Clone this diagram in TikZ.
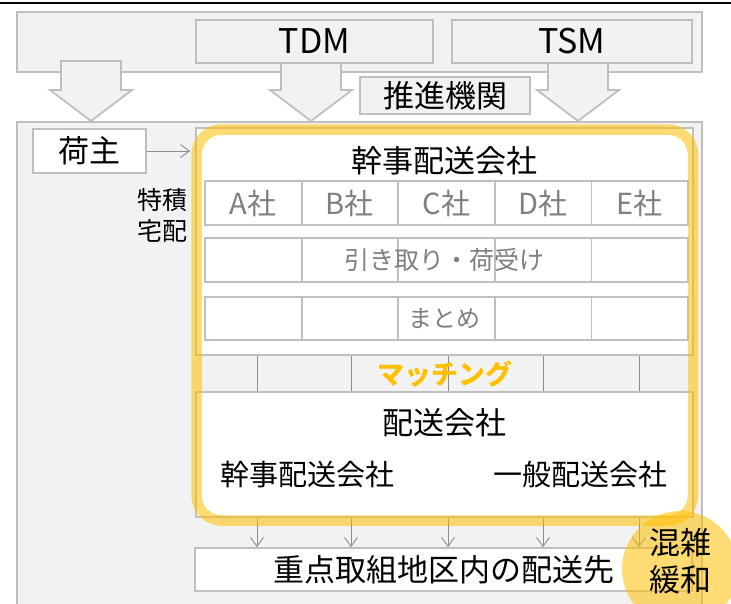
\documentclass[tikz,border=0pt]{standalone}
\usepackage{fontspec}
\setmainfont{Noto Sans CJK JP}
\usepackage{xcolor}
\usepackage{tikz}
\usetikzlibrary{arrows.meta, positioning}

\definecolor{panelgray}{HTML}{F2F2F2}
\definecolor{linegray}{HTML}{BFBFBF}
\definecolor{textgray}{HTML}{7F7F7F}
\definecolor{wiregray}{HTML}{8C8C8C}
\definecolor{matchorange}{HTML}{FFC000}

\begin{document}
\begin{tikzpicture}[
        x=1pt, y=-1pt,
        every node/.style={inner sep=0pt},
        panel/.style={draw=linegray, line width=1.8pt, fill=panelgray},
        box/.style={draw=linegray, line width=1.8pt, fill=white},
        cell/.style={box, minimum width=96.6pt, minimum height=44pt},
        blockarrow/.style={draw=linegray, line width=1.8pt, fill=panelgray},
        wire/.style={draw=wiregray, line width=0.9pt},
        flow/.style={wire, -{Straight Barb[length=9pt, width=13pt]}},
        big/.style={font=\fontsize{31pt}{37pt}\selectfont},
        mid/.style={font=\fontsize{29pt}{35pt}\selectfont},
        small/.style={font=\fontsize{25pt}{31pt}\selectfont},
        hilite/.style={draw=matchorange, line width=10.5pt, draw opacity=0.55, rounded corners=25pt}
    ]
    \clip (0,0) rectangle (731,603);

    % Header
    \draw[black, line width=1.5pt] (0,3) -- (731,3);
    \node[panel, minimum width=685, minimum height=60] (top) at (359.5,42) {};
    \node[panel, font=\fontsize{34pt}{40pt}\selectfont, minimum width=237, minimum height=43] (tdm) at (314.5,41.5) {TDM};
    \node[panel, font=\fontsize{34pt}{40pt}\selectfont, minimum width=240, minimum height=43] (tsm) at (572,41.5) {TSM};
    \node[panel, minimum width=685, minimum height=500] (field) at (359.5,372) {};

    % Block arrows
    \foreach \cx/\ty in {91/61, 311/63, 578/63}
        \draw[blockarrow] (\cx-30,\ty) -- (\cx+30,\ty) -- (\cx+30,90) -- (\cx+41,90)
            -- (\cx,121) -- (\cx-41,90) -- (\cx-30,90) -- cycle;
    \node[panel, big, minimum width=170, minimum height=37] (agency) at (445,95.5) {推進機関};

    % Shipper
    \node[box, big, minimum width=113, minimum height=44] (shipper) at (89.5,151) {荷主};
    \node[small, align=center] (special) at (162.5,215.5) {特積\\宅配};

    % Lead carrier
    \node[box, minimum width=497, minimum height=227] (lead) at (444.5,241.5) {};
    \node[big] (leadtitle) at (444.5,161) {幹事配送会社};
    \foreach \firm [count=\i from 0] in {A,B,C,D,E} {
        \node[cell, text=textgray, font=\fontsize{29pt}{33pt}\selectfont] (co\firm) at (253.3+96.6*\i,203) {\firm 社};
        \node[cell] (pick\firm) at (253.3+96.6*\i,260) {};
        \node[cell, minimum height=43pt] (pack\firm) at (253.3+96.6*\i,318.5) {};
    }
    \node[small, text=textgray] (pickup) at (444.5,260) {引き取り・荷受け};
    \node[text=textgray, font=\fontsize{24pt}{28pt}\selectfont] (bundle) at (444.5,318.5) {まとめ};

    % Carriers
    \node[box, minimum width=497, minimum height=125] (carrier) at (444.5,454.5) {};
    \foreach \x in {257,351,448,543,639}
        \draw[wire] (\x,0 |- lead.south) -- (\x,0 |- carrier.north);
    \node[text=matchorange, font=\fontsize{27pt}{31pt}\selectfont\bfseries] (matching) at (444.5,374) {マッチング};
    \node[big] (carriertitle) at (444.5,423) {配送会社};
    \node[mid] (leadco) at (307.5,475) {幹事配送会社};
    \node[mid] (generalco) at (580.5,475) {一般配送会社};

    % Destination
    \node[box, big, minimum width=497, minimum height=43] (dest) at (443.5,569.5) {重点取組地区内の配送先};
    \foreach \x in {257,351,448,543,639}
        \draw[flow] (\x,0 |- carrier.south) -- (\x,0 |- dest.north);
    \draw[flow, shorten >=5pt] (shipper) -- (shipper -| lead.west);

    % Highlights
    \node[hilite, minimum width=496.5, minimum height=391] (matchframe) at (444.75,325) {};
    \node[circle, fill=matchorange, fill opacity=0.55, minimum size=116] (relief) at (680,569) {};
    \node[big, align=center] (relieftext) at (680,561.5) {混雑\\緩和};
\end{tikzpicture}
\end{document}
